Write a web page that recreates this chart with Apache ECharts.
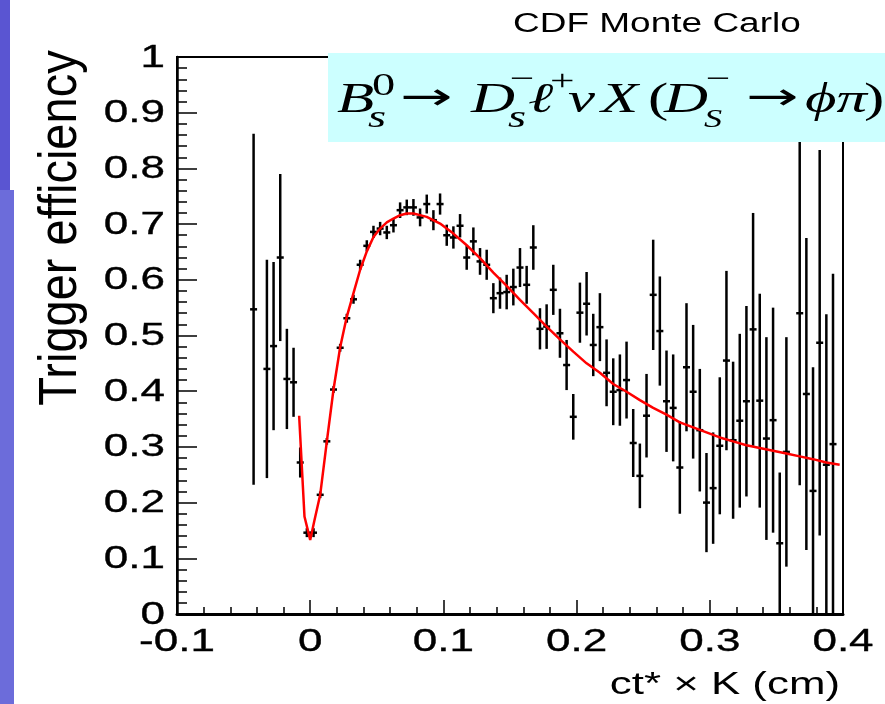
<!DOCTYPE html>
<html><head><meta charset="utf-8">
<script src="https://cdn.jsdelivr.net/npm/echarts@6/dist/echarts.min.js"></script>
<style>html,body{margin:0;padding:0;background:#fff}#c{width:885px;height:704px}</style>
</head><body><div id="c"></div>
<script>
// bin centres (cm)
const binCenters = [-0.0425,-0.0325,-0.0275,-0.0225,-0.0175,-0.0125,-0.0075,-0.0025,0.0025,0.0075,
  0.0125,0.0175,0.0225,0.0275,0.0325,0.0375,0.0425,0.0475,0.0525,0.0575,
  0.0625,0.0675,0.0725,0.0775,0.0825,0.0875,0.0925,0.0975,0.1025,0.1075,
  0.1125,0.1175,0.1225,0.1275,0.1325,0.1375,0.1425,0.1475,0.1525,0.1575,
  0.1625,0.1675,0.1725,0.1775,0.1825,0.1875,0.1925,0.1975,0.2025,0.2075,
  0.2125,0.2175,0.2225,0.2275,0.2325,0.2375,0.2425,0.2475,0.2525,0.2575,
  0.2625,0.2675,0.2725,0.2775,0.2825,0.2875,0.2925,0.2975,0.3025,0.3075,
  0.3125,0.3175,0.3225,0.3275,0.3325,0.3375,0.3425,0.3475,0.3525,0.3575,
  0.3675,0.3725,0.3775,0.3825,0.3875,0.3925];
// trigger efficiency per bin
const efficiency = [0.547,0.440,0.481,0.640,0.422,0.416,0.272,0.146,0.146,0.214,
  0.310,0.403,0.478,0.531,0.565,0.627,0.661,0.686,0.692,0.685,
  0.698,0.725,0.730,0.730,0.712,0.736,0.707,0.736,0.680,0.676,
  0.697,0.640,0.669,0.633,0.627,0.567,0.576,0.578,0.587,0.622,
  0.591,0.658,0.512,0.516,0.582,0.504,0.447,0.354,0.541,0.557,
  0.483,0.515,0.433,0.399,0.402,0.420,0.307,0.248,0.356,0.573,
  0.508,0.382,0.370,0.263,0.443,0.399,0.330,0.200,0.226,0.302,
  0.455,0.312,0.347,0.382,0.511,0.383,0.315,0.348,0.127,0.291,
  0.540,0.395,0.221,0.487,0.268,0.305];
// symmetric error per bin
const efficiencyErr = [0.315,0.196,0.151,0.150,0.090,0.062,0.027,0.008,0.008,0.006,
  0.006,0.006,0.007,0.008,0.008,0.009,0.010,0.011,0.012,0.012,
  0.013,0.014,0.014,0.015,0.016,0.017,0.018,0.019,0.019,0.020,
  0.021,0.022,0.025,0.024,0.027,0.027,0.028,0.031,0.033,0.035,
  0.034,0.040,0.037,0.040,0.045,0.044,0.045,0.041,0.054,0.057,
  0.056,0.061,0.060,0.060,0.064,0.069,0.061,0.058,0.075,0.099,
  0.098,0.091,0.096,0.083,0.115,0.120,0.110,0.089,0.100,0.123,
  0.161,0.141,0.156,0.171,0.209,0.192,0.182,0.202,0.127,0.206,
  0.309,0.280,0.222,0.346,0.270,0.306];
// fitted curve
const fitX = [-0.0083,-0.0043,0.0,0.003,0.0075,0.0125,0.0175,0.0225,0.0275,0.0325,
  0.0375,0.0425,0.0475,0.0525,0.0575,0.0625,0.0675,0.0725,0.0775,0.0875,
  0.0975,0.1075,0.1175,0.1275,0.1375,0.1475,0.1575,0.1675,0.1775,0.1875,
  0.1975,0.2075,0.2175,0.2275,0.2375,0.2475,0.2575,0.2675,0.2775,0.2875,
  0.2975,0.3075,0.3175,0.3275,0.3375,0.3475,0.3575,0.3675,0.3775,0.3875,0.3975];
const fitY = [0.356,0.175,0.133,0.166,0.214,0.310,0.403,0.479,0.534,0.576,
  0.618,0.651,0.677,0.692,0.703,0.710,0.716,0.719,0.719,0.713,
  0.701,0.683,0.662,0.639,0.613,0.589,0.564,0.540,0.516,0.493,
  0.471,0.450,0.433,0.413,0.399,0.384,0.370,0.358,0.344,0.335,
  0.326,0.317,0.310,0.303,0.298,0.293,0.288,0.283,0.278,0.272,0.268];
const xTickValues = [-0.1,0,0.1,0.2,0.3,0.4];
const xTickLabels = ['-0.1','0','0.1','0.2','0.3','0.4'];
const yTickValues = [0,0.1,0.2,0.3,0.4,0.5,0.6,0.7,0.8,0.9,1];
const yTickLabels = ['0','0.1','0.2','0.3','0.4','0.5','0.6','0.7','0.8','0.9','1'];
const xMin = -0.1, xMax = 0.4, yMin = 0, yMax = 1;

const chart = echarts.init(document.getElementById('c'), null, {renderer:'canvas'});
const pts = binCenters.map((x,i)=>[x, efficiency[i], efficiencyErr[i]]);
const fit = fitX.map((x,i)=>[x, fitY[i]]);
const SX = 1.45;
const serif = '"Liberation Serif","Times New Roman",serif';
const sans = '"Liberation Sans",Arial,sans-serif';
function piece(text, x, y, size, italic, extra){
  return Object.assign({type:'text', x:x, y:y, scaleX:SX, z:110,
    style:{text:text, fill:'#000', fontSize:size, fontFamily:serif,
      fontStyle: italic ? 'italic' : 'normal', align:'left', verticalAlign:'middle'}}, extra||{});
}
function arrow(x, y){
  return {type:'text', x:x, y:y, scaleX:1.65, z:110,
    style:{text:'\u2192', fill:'#000', fontSize:38, fontFamily:'"DejaVu Sans"', align:'left', verticalAlign:'middle'}};
}
chart.setOption({
  animation:false,
  backgroundColor:'#fff',
  grid:{left:177, right:42, top:57, bottom:90, show:true, borderColor:'#000', borderWidth:2,
        backgroundColor:'transparent', outerBoundsMode:'none'},
  xAxis:{type:'value', min:xMin, max:xMax, interval:0.1,
    axisLine:{show:true, onZero:false, lineStyle:{color:'#000', width:3}},
    axisTick:{show:true, inside:true, length:14, lineStyle:{color:'#000', width:1.5}},
    minorTick:{show:true, splitNumber:5, length:7, lineStyle:{color:'#000', width:1.5}},
    splitLine:{show:false}, minorSplitLine:{show:false},
    axisLabel:{show:false}
  },
  yAxis:{type:'value', min:yMin, max:yMax, interval:0.1,
    axisLine:{show:true, onZero:false, lineStyle:{color:'#000', width:2.5}},
    axisTick:{show:true, inside:true, length:20, lineStyle:{color:'#000', width:1.5}},
    minorTick:{show:true, splitNumber:5, length:10, lineStyle:{color:'#000', width:1.5}},
    splitLine:{show:false}, minorSplitLine:{show:false},
    axisLabel:{show:false}
  },
  series:[
    {type:'custom', name:'MC', data:pts, encode:{x:0, y:1}, clip:true, z:2,
      renderItem:function(params, api){
        const x = api.value(0), y = api.value(1), e = api.value(2);
        const c = api.coord([x, y]);
        const hi = api.coord([x, Math.min(yMax, y + e)]);
        const lo = api.coord([x, Math.max(yMin, y - e)]);
        return {type:'group', children:[
          {type:'line', shape:{x1:c[0], y1:hi[1], x2:c[0], y2:lo[1]}, style:{stroke:'#000', lineWidth:2.5}},
          {type:'line', shape:{x1:c[0]-3.5, y1:c[1], x2:c[0]+3.5, y2:c[1]}, style:{stroke:'#000', lineWidth:2.5}}
        ]};
      }},
    {type:'line', name:'fit', data:fit, showSymbol:false, smooth:false, z:3,
      lineStyle:{color:'#ff0000', width:2.5}, itemStyle:{color:'#ff0000'}}
  ]
});

// tick labels placed through the chart's own coordinate conversion (stretched like the original)
const labelGraphics = [];
xTickValues.forEach(function(v, i){
  const p = chart.convertToPixel({gridIndex:0}, [v, yMin]);
  labelGraphics.push({type:'text', x:p[0], y:p[1] + 28, scaleX:1.42, z:110,
    style:{text:xTickLabels[i], fill:'#000', stroke:'#000', lineWidth:0.35, fontSize:31, fontFamily:sans, align:'center', verticalAlign:'middle'}});
});
yTickValues.forEach(function(v, i){
  const p = chart.convertToPixel({gridIndex:0}, [xMin, v]);
  labelGraphics.push({type:'text', x:p[0] - 12, y:p[1] + 1, scaleX:1.42, z:110,
    style:{text:yTickLabels[i], fill:'#000', stroke:'#000', lineWidth:0.35, fontSize:31, fontFamily:sans, align:'right', verticalAlign:'middle'}});
});

chart.setOption({
  graphic:[
    {type:'rect', shape:{x:0, y:0, width:10, height:190}, style:{fill:'#5a55d2'}, z:100},
    {type:'rect', shape:{x:0, y:190, width:14, height:514}, style:{fill:'#6c6cda'}, z:100},
    {type:'rect', shape:{x:328, y:53, width:560, height:89}, style:{fill:'#ccffff'}, z:105},
    {type:'text', x:513, y:25, scaleX:1.37, z:110,
      style:{text:'CDF Monte Carlo', fill:'#000', fontSize:27, fontFamily:sans, align:'left', verticalAlign:'middle'}},
    {type:'text', x:840, y:685, scaleX:1.37, z:110,
      style:{text:'ct* \u00d7 K (cm)', fill:'#000', fontSize:32, fontFamily:sans, align:'right', verticalAlign:'middle'}},
    {type:'text', x:61, y:228, rotation:Math.PI/2, scaleY:1.13, z:110,
      style:{text:'Trigger efficiency', fill:'#000', fontSize:47, fontFamily:sans, align:'center', verticalAlign:'middle'}},
    piece('B', 337, 101, 42, true),
    piece('0', 372, 87, 32, false),
    piece('s', 368, 119, 32, true),
    arrow(400, 99),
    piece('D', 471, 101, 42, true),
    piece('\u2212', 510, 80, 30, false),
    piece('s', 508, 119, 32, true),
    piece('\u2113', 528, 101, 42, true),
    piece('+', 550, 82, 30, false),
    piece('\u03bd', 568, 101, 42, true),
    piece('X', 601, 101, 42, true),
    piece('(', 648, 101, 42, false),
    piece('D', 664, 101, 42, true),
    piece('\u2212', 706, 80, 30, false),
    piece('S', 704, 120, 25, true),
    arrow(746, 99),
    piece('\u03d5\u03c0', 805, 101, 42, true),
    piece(')', 864, 101, 42, false)
  ].concat(labelGraphics)
});
</script></body></html>
